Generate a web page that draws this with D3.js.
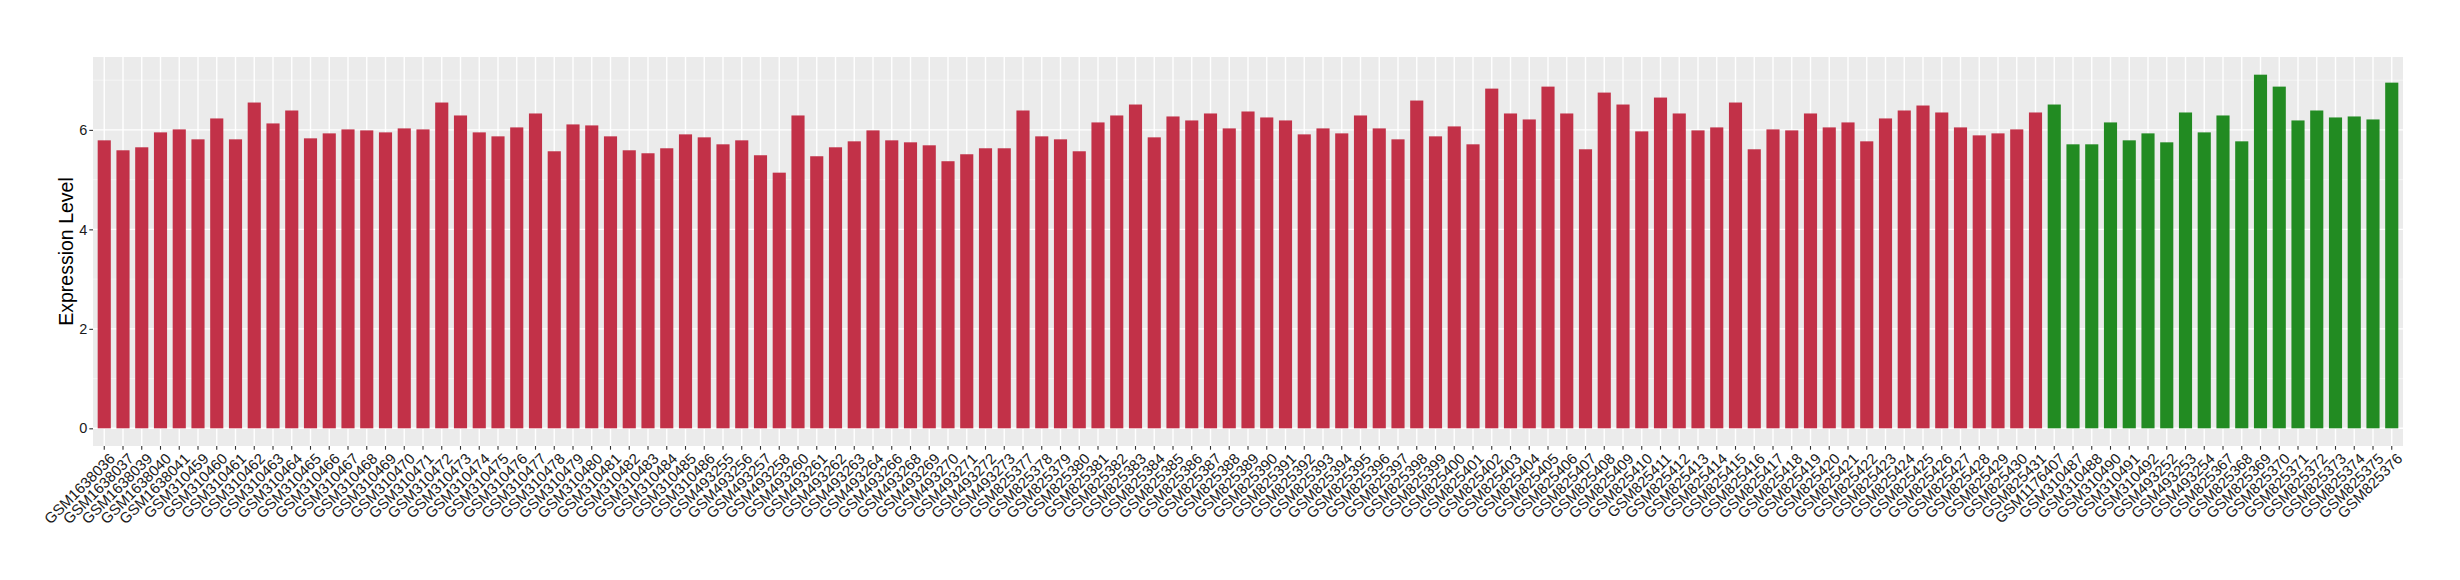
<!DOCTYPE html>
<html>
<head>
<meta charset="utf-8">
<script src="https://cdn.jsdelivr.net/npm/d3@7"></script>
<style>
  html, body { margin: 0; padding: 0; background: #fff; }
  svg { display: block; font-family: "Liberation Sans", Arial, Helvetica, sans-serif; }
</style>
</head>
<body>
<svg id="chart" width="2460" height="580"></svg>
<script>
// ---- Data ----
const categories = [
  "GSM1638036","GSM1638037","GSM1638039","GSM1638040","GSM1638041",
  "GSM310459","GSM310460","GSM310461","GSM310462","GSM310463","GSM310464","GSM310465",
  "GSM310466","GSM310467","GSM310468","GSM310469","GSM310470","GSM310471","GSM310472",
  "GSM310473","GSM310474","GSM310475","GSM310476","GSM310477","GSM310478","GSM310479",
  "GSM310480","GSM310481","GSM310482","GSM310483","GSM310484","GSM310485","GSM310486",
  "GSM493255","GSM493256","GSM493257","GSM493258","GSM493260","GSM493261","GSM493262",
  "GSM493263","GSM493264","GSM493266","GSM493268","GSM493269","GSM493270","GSM493271",
  "GSM493272","GSM493273",
  "GSM825377","GSM825378","GSM825379","GSM825380","GSM825381","GSM825382","GSM825383",
  "GSM825384","GSM825385","GSM825386","GSM825387","GSM825388","GSM825389","GSM825390",
  "GSM825391","GSM825392","GSM825393","GSM825394","GSM825395","GSM825396","GSM825397",
  "GSM825398","GSM825399","GSM825400","GSM825401","GSM825402","GSM825403","GSM825404",
  "GSM825405","GSM825406","GSM825407","GSM825408","GSM825409","GSM825410","GSM825411",
  "GSM825412","GSM825413","GSM825414","GSM825415","GSM825416","GSM825417","GSM825418",
  "GSM825419","GSM825420","GSM825421","GSM825422","GSM825423","GSM825424","GSM825425",
  "GSM825426","GSM825427","GSM825428","GSM825429","GSM825430","GSM825431",
  "GSM1176407","GSM310487","GSM310488","GSM310490","GSM310491","GSM310492",
  "GSM493252","GSM493253","GSM493254",
  "GSM825367","GSM825368","GSM825369","GSM825370","GSM825371","GSM825372","GSM825373",
  "GSM825374","GSM825375","GSM825376"
];

const values = [
  5.79,5.59,5.65,5.95,6.01,5.81,6.23,5.81,6.55,6.13,6.39,5.83,5.93,6.01,5.99,5.95,6.03,6.01,
  6.55,6.29,5.95,5.87,6.05,6.33,5.57,6.11,6.09,5.87,5.59,5.53,5.63,5.91,5.85,
  5.71,5.79,5.49,5.14,6.29,5.47,5.65,5.77,5.99,5.79,5.75,5.69,5.37,5.51,5.63,5.63,
  6.39,5.87,5.81,5.57,6.15,6.29,6.51,5.85,6.27,6.19,6.33,6.03,6.37,6.25,6.19,5.91,6.03,
  5.93,6.29,6.03,5.81,6.59,5.87,6.07,5.71,6.83,6.33,6.21,6.87,6.33,5.61,6.75,6.51,5.97,
  6.65,6.33,5.99,6.05,6.55,5.61,6.01,5.99,6.33,6.05,6.15,5.77,6.23,6.39,6.49,6.35,6.05,
  5.89,5.93,6.01,6.35,
  6.51,5.71,5.71,6.15,5.79,5.93,5.75,6.35,5.95,6.29,5.77,7.11,6.87,6.19,6.39,6.25,6.27,
  6.21,6.95
];

const groups = categories.map((c, i) => i < 104 ? "red" : "green");
const groupColors = { red: "#C23148", green: "#228B22" };

const yTicks = [0, 2, 4, 6];
const yMinorTicks = [1, 3, 5, 7];
const yTitle = "Expression Level";

// ---- Layout ----
const panel = { left: 93, right: 2403, top: 57, bottom: 446 };
const svg = d3.select("#chart");

const x = d3.scaleBand()
  .domain(categories)
  .range([panel.left, panel.right])
  .paddingInner(0.3)
  .paddingOuter(0.25);

const vmax = d3.max(values);
const y = d3.scaleLinear()
  .domain([-0.05 * vmax, vmax * 1.05])
  .range([panel.bottom, panel.top]);

// panel background
svg.append("rect")
  .attr("x", panel.left).attr("y", panel.top)
  .attr("width", panel.right - panel.left).attr("height", panel.bottom - panel.top)
  .attr("fill", "#EBEBEB");

// minor horizontal grid
svg.append("g").selectAll("line").data(yMinorTicks).join("line")
  .attr("x1", panel.left).attr("x2", panel.right)
  .attr("y1", d => y(d)).attr("y2", d => y(d))
  .attr("stroke", "#F6F6F6").attr("stroke-width", 0.8);

// major horizontal grid
svg.append("g").selectAll("line").data(yTicks).join("line")
  .attr("x1", panel.left).attr("x2", panel.right)
  .attr("y1", d => y(d)).attr("y2", d => y(d))
  .attr("stroke", "#FFFFFF").attr("stroke-width", 1.4);

// vertical grid
svg.append("g").selectAll("line").data(categories).join("line")
  .attr("x1", d => x(d) + x.bandwidth() / 2).attr("x2", d => x(d) + x.bandwidth() / 2)
  .attr("y1", panel.top).attr("y2", panel.bottom)
  .attr("stroke", "#FFFFFF").attr("stroke-width", 1.4);

// bars
svg.append("g").selectAll("rect").data(categories).join("rect")
  .attr("x", d => x(d))
  .attr("width", x.bandwidth())
  .attr("y", (d, i) => y(values[i]))
  .attr("height", (d, i) => y(0) - y(values[i]))
  .attr("fill", (d, i) => groupColors[groups[i]]);

// y axis
const yAxis = d3.axisLeft(y).tickValues(yTicks).tickSize(3.7).tickPadding(2).tickFormat(d3.format("d"));
const gy = svg.append("g").attr("transform", `translate(${panel.left},0)`).call(yAxis);
gy.select(".domain").remove();
gy.selectAll(".tick line").attr("stroke", "#333").attr("stroke-width", 1.1);
gy.selectAll(".tick text").attr("fill", "#1a1a1a").style("font-size", "14.5px")
  .style("font-family", "'Liberation Sans', Arial, sans-serif");

// x axis
const xAxis = d3.axisBottom(x).tickSize(3.7).tickPadding(0);
const gx = svg.append("g").attr("transform", `translate(0,${panel.bottom})`).call(xAxis);
gx.select(".domain").remove();
gx.selectAll(".tick line").attr("stroke", "#333").attr("stroke-width", 1.1);
gx.selectAll(".tick text")
  .attr("fill", "#1a1a1a")
  .style("font-size", "15px")
  .style("font-family", "'Liberation Sans', Arial, sans-serif")
  .attr("text-anchor", "end")
  .attr("transform", "translate(4,6) rotate(-45)")
  .attr("x", 0).attr("y", 0).attr("dy", "0.72em");

// y title
svg.append("text")
  .attr("transform", `translate(73,${(panel.top + panel.bottom) / 2}) rotate(-90)`)
  .attr("text-anchor", "middle")
  .attr("fill", "#000")
  .style("font-size", "19.5px")
  .text(yTitle);
</script>
</body>
</html>
